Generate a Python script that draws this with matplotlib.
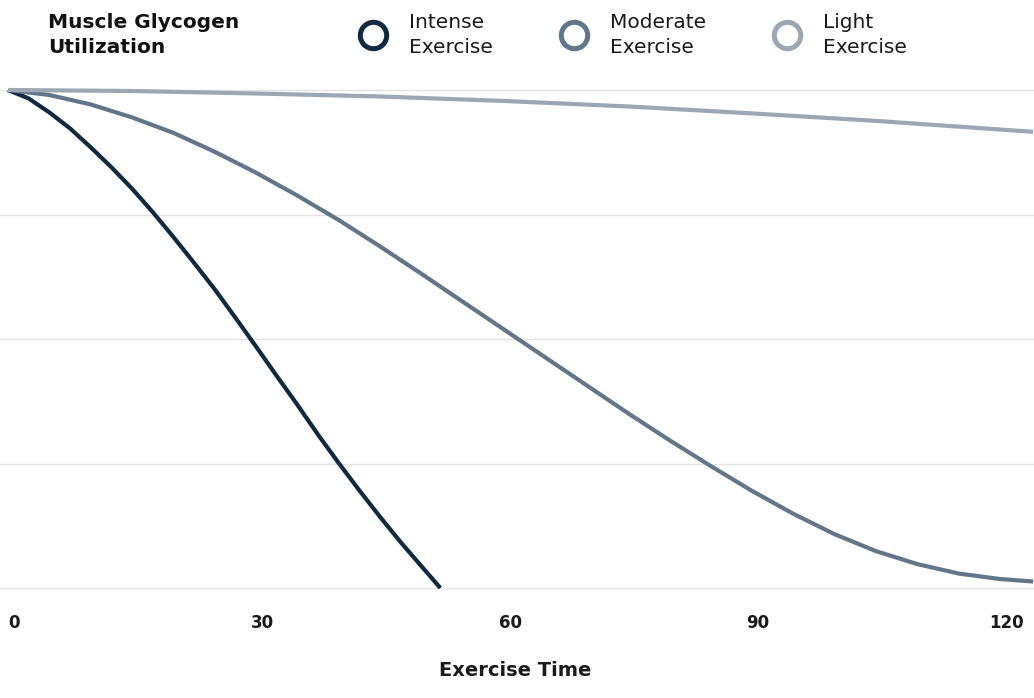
import numpy as np
import matplotlib.pyplot as plt
import matplotlib.transforms as mtransforms
from matplotlib.lines import Line2D

plt.rcParams['font.family'] = ['DejaVu Sans']

# valeurs (temps en minutes, glycogène en %)
intense_t = [0, 2.5, 5, 7.5, 10, 12.5, 15, 17.5, 20, 22.5, 25, 27.5, 30,
             32.5, 35, 37.5, 40, 42.5, 45, 47.5, 50, 52.3]
intense_g = [100, 98.3, 95.5, 92.3, 88.5, 84.5, 80.2, 75.5, 70.5, 65.3, 60,
             54.3, 48.5, 42.6, 36.8, 30.8, 25.1, 19.6, 14.3, 9.2, 4.4, 0]

moderate_t = [0, 5, 10, 15, 20, 25, 30, 35, 40, 45, 50, 55, 60, 65, 70, 75,
              80, 85, 90, 95, 100, 105, 110, 115, 120, 124]
moderate_g = [100, 99.0, 97.1, 94.5, 91.4, 87.6, 83.4, 78.8, 73.9, 68.6, 63.1,
              57.5, 51.9, 46.3, 40.7, 35.1, 29.7, 24.5, 19.5, 14.9, 10.8, 7.4,
              4.8, 2.9, 1.8, 1.3]

light_t = [0, 15, 30, 45, 60, 75, 90, 105, 124]
light_g = [100, 99.8, 99.3, 98.7, 97.8, 96.7, 95.3, 93.8, 91.6]

xticks = [0, 30, 60, 90, 120]
yticks = [0, 25, 50, 75, 100]

series = [
    ('Intense\nExercise', intense_t, intense_g, '#0f2940'),
    ('Moderate\nExercise', moderate_t, moderate_g, '#617689'),
    ('Light\nExercise', light_t, light_g, '#9ba7b3'),
]

W, H = 1034, 698
fig = plt.figure(figsize=(W / 100, H / 100), dpi=100)

# axe : y=0 -> 588 px, y=100 -> 90 px ; x=0 -> 8 px, x=120 -> 1000 px
ppu_y = 498 / 100
ppu_x = 992 / 120
ax = fig.add_axes([0, (H - 588 - ppu_y) / H, 1, (498 + 2 * ppu_y) / H])
ax.set_ylim(-1, 101)
ax.set_xlim(-8 / ppu_x, (W - 8) / ppu_x)

for label, t, g, c in series:
    ax.plot(t, g, color=c, lw=3, solid_capstyle='butt', solid_joinstyle='round',
            zorder=3)

ax.set_yticks(yticks)
ax.yaxis.grid(True, color='#e2e2e2', lw=1)
ax.set_yticklabels([])
ax.tick_params(axis='y', length=0)
ax.set_xticks(xticks)
ax.set_xticklabels([str(v) for v in xticks], fontsize=12, fontweight='bold',
                   color='#1a1a1a')
ax.tick_params(axis='x', length=0, pad=15)
decal = mtransforms.ScaledTranslation(6 / 100, 0, fig.dpi_scale_trans)
for lab in ax.get_xticklabels():
    lab.set_transform(lab.get_transform() + decal)
for s in ax.spines.values():
    s.set_visible(False)

fig.text(515 / W, 1 - 671 / H, 'Exercise Time', ha='center', va='center',
         fontsize=14, fontweight='bold', color='#1a1a1a')

fig.text(48 / W, 1 - 35 / H, 'Muscle Glycogen\nUtilization', ha='left',
         va='center', fontsize=14.5, fontweight='bold', color='#111111',
         linespacing=1.35)

handles = [Line2D([], [], ls='none', marker='o', ms=19, mew=3.6, mfc='white',
                  mec=c) for _, _, _, c in series]
labels = [s[0] for s in series]
leg = fig.legend(handles, labels, loc='center left',
                 bbox_to_anchor=(357 / W, 1 - 35 / H), ncol=3, frameon=False,
                 fontsize=14.5, handlelength=1.6, handletextpad=1.0,
                 columnspacing=3.2, borderpad=0, borderaxespad=0,
                 labelcolor='#1a1a1a')
for txt in leg.get_texts():
    txt.set_linespacing(1.35)

fig.savefig('out.png', dpi=100)
